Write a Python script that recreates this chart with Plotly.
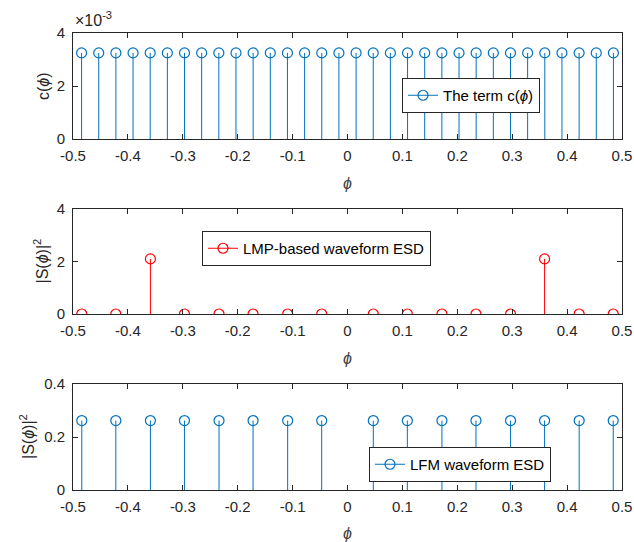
import plotly.graph_objects as go

# ---- data ----
phi_c = [(-0.5 + (k + 0.5) / 32) for k in range(32)]
c_vals = [0.00325] * 32

phi_s = [-0.484, -0.422, -0.359, -0.297, -0.234, -0.172, -0.109, -0.047,
         0.047, 0.109, 0.172, 0.234, 0.297, 0.359, 0.422, 0.484]
lmp_vals = [0, 0, 2.1, 0, 0, 0, 0, 0, 0, 0, 0, 0, 0, 2.1, 0, 0]
lfm_vals = [0.262] * 16

xticks = [-0.5, -0.4, -0.3, -0.2, -0.1, 0, 0.1, 0.2, 0.3, 0.4, 0.5]
xticklabels = ["-0.5", "-0.4", "-0.3", "-0.2", "-0.1", "0", "0.1", "0.2", "0.3", "0.4", "0.5"]

BLUE = "#0072BD"
RED = "#FF0000"
AX = "#262626"
FONT = "Liberation Sans, Arial, Helvetica, sans-serif"
PHI = "<i>ϕ</i>"

fig = go.Figure()


def add_stem(x, y, color, name, xa, ya, legend):
    sx, sy, mx, my = [], [], [], []
    for xi, yi in zip(x, y):
        sx += [xi, xi, None]
        sy += [0, yi, None]
        mx += [xi, None]
        my += [yi, None]
    fig.add_trace(go.Scatter(x=sx, y=sy, mode="lines", line=dict(color=color, width=1),
                             showlegend=False, hoverinfo="skip", xaxis=xa, yaxis=ya))
    fig.add_trace(go.Scatter(x=mx, y=my, mode="lines+markers", name=name,
                             line=dict(color=color, width=1), connectgaps=False,
                             marker=dict(symbol="circle-open", size=10, color=color,
                                         line=dict(width=1.2, color=color)),
                             xaxis=xa, yaxis=ya, legend=legend))


add_stem(phi_c, c_vals, BLUE, "The term c(" + PHI + ")", "x", "y", "legend")
add_stem(phi_s, lmp_vals, RED, "LMP-based waveform ESD", "x2", "y2", "legend2")
add_stem(phi_s, lfm_vals, BLUE, "LFM waveform ESD", "x3", "y3", "legend3")

W, H = 634, 542
xd = [73 / W, 622 / W]
doms = [(33, 139), (209, 314), (384, 490)]


def ydom(t, b):
    return [1 - b / H, 1 - t / H]


axcommon = dict(showline=True, linecolor=AX, linewidth=1, mirror="allticks", ticks="inside",
                ticklen=5, tickcolor=AX, tickwidth=1, showgrid=False, zeroline=False,
                automargin=False,
                tickfont=dict(family=FONT, size=15, color=AX))

lay = dict(width=W, height=H, margin=dict(l=0, r=0, t=0, b=0),
           plot_bgcolor="white", paper_bgcolor="white", showlegend=True,
           font=dict(family=FONT, size=15, color=AX))

ytitles = ["c(" + PHI + ")", "|S(" + PHI + ")|<sup>2</sup>", "|S(" + PHI + ")|<sup>2</sup>"]
yranges = [[0, 0.004], [0, 4], [0, 0.4]]
ytv = [[0, 0.002, 0.004], [0, 2, 4], [0, 0.2, 0.4]]
ytt = [["0", "2", "4"], ["0", "2", "4"], ["0", "0.2", "0.4"]]
ytitle_x = [44, 41, 27]

annots = []
for i, (t, b) in enumerate(doms):
    sfx = "" if i == 0 else str(i + 1)
    lay["xaxis" + sfx] = dict(axcommon, domain=xd, range=[-0.5, 0.5], tickvals=xticks,
                              ticktext=xticklabels, anchor="y" + sfx, ticklabelstandoff=3,
                              title=dict(text=PHI, standoff=14,
                                         font=dict(family=FONT, size=16, color="#404040")))
    lay["yaxis" + sfx] = dict(axcommon, domain=ydom(t, b), range=yranges[i], tickvals=ytv[i],
                              ticktext=ytt[i], anchor="x" + sfx, ticklabelstandoff=4)
    annots.append(dict(text=ytitles[i], xref="paper", yref="paper", x=ytitle_x[i] / W,
                       y=1 - (t + b) / 2 / H, xanchor="center", yanchor="middle",
                       textangle=-90, showarrow=False,
                       font=dict(family=FONT, size=16, color=AX)))

legcommon = dict(bgcolor="white", bordercolor=AX, borderwidth=1,
                 font=dict(family=FONT, size=15, color="#000000"),
                 xanchor="left", yanchor="top", tracegroupgap=0)
lay["legend"] = dict(legcommon, x=402 / W, y=1 - 78 / H)
lay["legend2"] = dict(legcommon, x=202 / W, y=1 - 231 / H)
lay["legend3"] = dict(legcommon, x=369 / W, y=1 - 447 / H)

annots.append(dict(text="×10<sup>-3</sup>", xref="paper", yref="paper", x=73 / W, y=1 - 31 / H,
                   xanchor="left", yanchor="bottom", showarrow=False,
                   font=dict(family=FONT, size=16, color=AX)))
lay["annotations"] = annots

fig.update_layout(**lay)
fig.write_html("out.html")
